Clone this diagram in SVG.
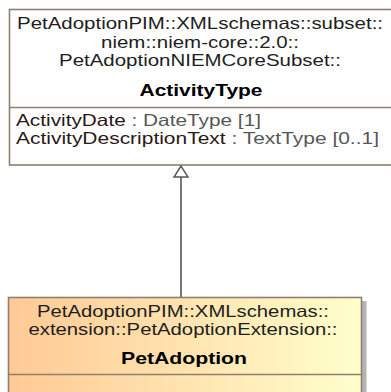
<svg xmlns="http://www.w3.org/2000/svg" width="391" height="392" viewBox="0 0 391 392">
<style>
.hdr{font-family:"Liberation Sans",Arial,sans-serif;font-size:16.5px;fill:#1e1e1e;text-anchor:middle}
.nm{font-family:"Liberation Sans",Arial,sans-serif;font-size:16.5px;font-weight:bold;fill:#000;text-anchor:middle}
.attr{font-family:"Liberation Sans",Arial,sans-serif;font-size:16.5px;fill:#2a1818}
.ty{fill:#575757}
.box{stroke:#8f7f6f;stroke-width:1.6}
.sep{stroke:#8f7f6f;stroke-width:1.6}
.conn{stroke:#555;stroke-width:1.6;fill:none}
</style>
<defs>
<linearGradient id="orange" x1="0" y1="0" x2="1" y2="0">
<stop offset="0" stop-color="#FFC994"/>
<stop offset="1" stop-color="#FFFFCC"/>
</linearGradient>
<marker id="gen" markerUnits="userSpaceOnUse" viewBox="0 0 13 16" refX="12" refY="8" markerWidth="13" markerHeight="16" orient="auto">
<path d="M12,8 L1,1 L1,15 z" fill="#fff" stroke="#555" stroke-width="1.4"/>
</marker>
</defs>
<g id="ActivityType">
<rect class="box" x="9.5" y="9.5" width="392" height="155.5" fill="#fff"/>
<text class="hdr" x="200" y="29" textLength="366" lengthAdjust="spacingAndGlyphs">PetAdoptionPIM::XMLschemas::subset::</text>
<text class="hdr" x="200" y="47.5" textLength="198" lengthAdjust="spacingAndGlyphs">niem::niem-core::2.0::</text>
<text class="hdr" x="200" y="66" textLength="282" lengthAdjust="spacingAndGlyphs">PetAdoptionNIEMCoreSubset::</text>
<text class="nm" x="201" y="96" textLength="123" lengthAdjust="spacingAndGlyphs">ActivityType</text>
<line class="sep" x1="9.5" y1="107.5" x2="391" y2="107.5"/>
<text class="attr" x="16" y="126" textLength="245" lengthAdjust="spacingAndGlyphs">ActivityDate<tspan class="ty"> : DateType [1]</tspan></text>
<text class="attr" x="16" y="143.5" textLength="363" lengthAdjust="spacingAndGlyphs">ActivityDescriptionText<tspan class="ty"> : TextType [0..1]</tspan></text>
</g>
<g id="PetAdoption">
<rect x="362" y="301" width="4.5" height="95" fill="#b4b4b4"/>
<rect class="box" x="8.5" y="297.5" width="353" height="100" fill="url(#orange)"/>
<text class="hdr" x="183" y="316.5" textLength="292" lengthAdjust="spacingAndGlyphs">PetAdoptionPIM::XMLschemas::</text>
<text class="hdr" x="183" y="335" textLength="309" lengthAdjust="spacingAndGlyphs">extension::PetAdoptionExtension::</text>
<text class="nm" x="184" y="364" textLength="126" lengthAdjust="spacingAndGlyphs">PetAdoption</text>
<line class="sep" x1="8.5" y1="374.5" x2="361.5" y2="374.5"/>
</g>
<g id="connectors">
<line class="conn" x1="181" y1="297" x2="181" y2="166" marker-end="url(#gen)"/>
</g>
</svg>
